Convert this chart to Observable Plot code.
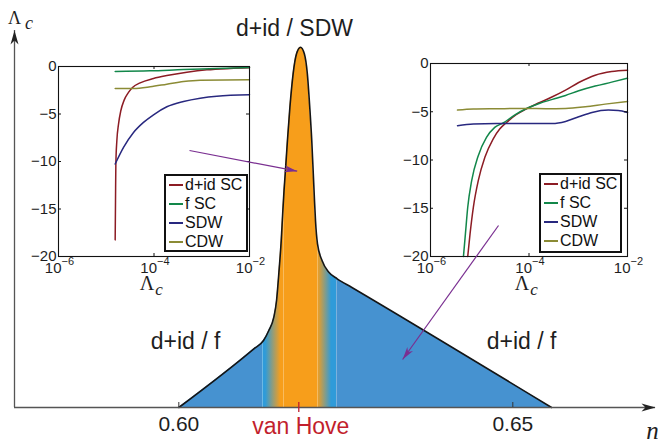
<!DOCTYPE html>
<html>
<head>
<meta charset="utf-8">
<script src="https://cdn.jsdelivr.net/npm/d3@7"></script>
<script src="https://cdn.jsdelivr.net/npm/@observablehq/plot@0.6"></script>
<style>
  html, body { margin: 0; padding: 0; background: #fff; }
  #wrap { position: relative; width: 658px; height: 442px; overflow: hidden; font-family: "Liberation Sans", Arial, sans-serif; }
  #wrap svg { position: absolute; left: 0; top: 0; }
  .legend { position: absolute; box-sizing: border-box; border: 2px solid #111; background: #fff; font-size: 16px; color: #111; padding-left: 3px; }
  .legend .row { height: 18.8px; display: flex; align-items: center; white-space: nowrap; line-height: 1; }
  .legend .sw { display: inline-block; width: 14px; height: 2px; margin-right: 2px; }
</style>
</head>
<body>
<div id="wrap"></div>
<script>
// ---------------- main phase diagram: critical scale Λc versus filling n ----------------
const boundaryN = [0.60000, 0.61123, 0.61268, 0.61347, 0.61422, 0.61463, 0.61497, 0.61533, 0.61555, 0.61575,
                   0.61593, 0.61626, 0.61663, 0.61711, 0.61762, 0.61822, 0.61879, 0.61924, 0.61960, 0.61990,
                   0.62013, 0.62031, 0.62046, 0.62076, 0.62144, 0.62246, 0.62371, 0.62585, 0.65580];
const boundaryL = [0, 0.1557, 0.1777, 0.2042, 0.2395, 0.2838, 0.3554, 0.4430, 0.5146, 0.5756,
                   0.6207, 0.7082, 0.7966, 0.8851, 0.9382, 0.9557, 0.9382, 0.8851, 0.7966, 0.7082,
                   0.6199, 0.5491, 0.4960, 0.4342, 0.3899, 0.3589, 0.3414, 0.3191, 0];
const bandEdgesN = [0.61253, 0.61567, 0.62076, 0.62361];
const xTickValues = [0.60, 0.65];
const vanHoveN = 0.61796;
const phaseText = ["d+id / SDW", "d+id / f", "d+id / f"];
const phaseTextN = [0.61732, 0.60100, 0.65130];
const phaseTextL = [1.005, 0.175, 0.175];
const arrowFromN = [0.60160, 0.64786];
const arrowFromL = [0.6817, 0.4828];
const arrowToN = [0.61772, 0.63350];
const arrowToL = [0.6268, 0.1273];
const nLabelN = 0.6709;

// ---------------- insets: flow of the susceptibilities ----------------
const seriesNames = ["d+id SC", "f SC", "SDW", "CDW"];
const seriesColors = ["#8c1c24", "#12874a", "#28287f", "#8b8b35"];
const insetYTicks = [0, -5, -10, -15, -20];
const insetXTicks = [1e-6, 1e-4, 1e-2];

// left inset
const leftDidLam = [1.538e-5, 1.563e-5, 1.589e-5, 1.667e-5, 1.807e-5, 2.018e-5, 2.371e-5, 2.924e-5, 3.548e-5, 5.129e-5, 9.772e-5, 1.858e-4, 4.875e-4, 1.276e-3, 3.936e-3, 1e-2];
const leftDidVal = [-18.25, -14.12, -10.26, -7.81, -6.06, -4.66, -3.54, -2.73, -2.21, -1.72, -1.26, -0.95, -0.60, -0.35, -0.21, -0.14];
const leftFLam = [1.538e-5, 8.318e-5, 4.150e-4, 2.070e-3, 1e-2];
const leftFVal = [-0.53, -0.46, -0.32, -0.21, -0.10];
const leftSdwLam = [1.538e-5, 2.301e-5, 3.724e-5, 6.026e-5, 9.772e-5, 1.858e-4, 4.150e-4, 9.268e-4, 2.070e-3, 1e-2];
const leftSdwVal = [-10.26, -8.51, -6.94, -5.88, -5.08, -4.24, -3.68, -3.33, -3.12, -2.98];
const leftCdwLam = [1.538e-5, 3.724e-5, 8.318e-5, 1.858e-4, 4.150e-4, 9.268e-4, 1e-2];
const leftCdwVal = [-2.31, -2.31, -2.14, -1.86, -1.58, -1.44, -1.40];

// right inset
const rightDidLam = [5.702e-6, 6.353e-6, 7.413e-6, 9.333e-6, 1.271e-5, 1.866e-5, 2.541e-5, 3.451e-5, 5.483e-5, 8.710e-5, 1.611e-4, 2.985e-4, 5.521e-4, 1.023e-3, 2.208e-3, 4.775e-3, 1e-2];
const rightDidVal = [-20, -17.66, -14.90, -12.14, -9.72, -7.83, -6.79, -6.14, -5.31, -4.72, -4.07, -3.45, -2.76, -1.97, -1.21, -0.83, -0.69];
const rightFLam = [4.667e-6, 5.117e-6, 5.702e-6, 6.855e-6, 9.333e-6, 1.371e-5, 2.014e-5, 3.055e-5, 5.082e-5, 8.710e-5, 1.611e-4, 2.985e-4, 5.521e-4, 1.023e-3, 2.208e-3, 4.775e-3, 1e-2];
const rightFVal = [-20, -17.66, -14.90, -12.14, -9.55, -7.66, -6.62, -6.14, -5.34, -4.69, -4.14, -3.72, -3.31, -2.83, -2.34, -1.93, -1.52];
const rightSdwLam = [3.535e-6, 7.413e-6, 2.178e-5, 8.710e-5, 2.985e-4, 5.521e-4, 1.023e-3, 1.900e-3, 4.093e-3, 6.50e-3, 1e-2];
const rightSdwVal = [-6.45, -6.28, -6.21, -6.21, -6.21, -6.00, -5.52, -5.07, -4.83, -4.86, -5.07];
const rightCdwLam = [3.535e-6, 7.413e-6, 2.178e-5, 8.710e-5, 2.193e-4, 5.521e-4, 1.393e-3, 3.508e-3, 1e-2];
const rightCdwVal = [-4.83, -4.72, -4.69, -4.66, -4.69, -4.66, -4.48, -4.21, -3.93];

// ---------------- helpers ----------------
const W = 658, H = 442;
const INK = "#1e1e1e", AXIS = "#555555", PURPLE = "#7a2f91", RED = "#c21f2d";
const BLUE = "#4692d0", CYAN = "#2f9bd9", ORANGE = "#f79e1b";
const SANS = "'Liberation Sans', Arial, sans-serif", SERIF = "'Liberation Serif', 'DejaVu Serif', serif";

function stealth(len, wid) { // arrow head, tip at origin, pointing up
  return { draw(ctx) {
    ctx.moveTo(0, 0); ctx.lineTo(wid / 2, len); ctx.lineTo(0, len * 0.72); ctx.lineTo(-wid / 2, len); ctx.closePath();
  }};
}
function boundaryAt(n) {
  for (let i = 1; i < boundaryN.length; i++) if (n <= boundaryN[i]) {
    const t = (n - boundaryN[i - 1]) / (boundaryN[i] - boundaryN[i - 1]);
    return boundaryL[i - 1] + t * (boundaryL[i] - boundaryL[i - 1]);
  }
  return 0;
}
const zip = (xs, ys) => xs.map((x, i) => ({x, y: ys[i]}));

// ---------------- main plot ----------------
const xDomain = [0.5754, 0.67136];
const mL = 14, mR = 3, mT = 30, mB = 35;
const xs = Plot.scale({x: {domain: xDomain, range: [mL, W - mR]}});
const ys = Plot.scale({y: {domain: [0, 1], range: [H - mB, mT]}});

const boundary = zip(boundaryN, boundaryL);
const bandLines = bandEdgesN.map(n => ({n, top: boundaryAt(n) * 0.985}));
const phases = phaseText.map((t, i) => ({t, n: phaseTextN[i], l: phaseTextL[i]}));
const arrows = arrowFromN.map((_, i) => ({n1: arrowFromN[i], l1: arrowFromL[i], n2: arrowToN[i], l2: arrowToL[i]}));
arrows.forEach(a => {
  const dx = xs.apply(a.n2) - xs.apply(a.n1), dy = ys.apply(a.l2) - ys.apply(a.l1);
  a.rot = Math.atan2(dx, -dy) * 180 / Math.PI;
});
const axisHeads = [{n: xDomain[1], l: 0, rot: 90}, {n: xDomain[0], l: 1, rot: 0}];

const main = Plot.plot({
  width: W, height: H, marginLeft: mL, marginRight: mR, marginTop: mT, marginBottom: mB,
  style: {background: "transparent", fontFamily: SANS, color: INK},
  x: {domain: xDomain, axis: null},
  y: {domain: [0, 1], axis: null},
  marks: [
    Plot.areaY(boundary, {x: "x", y: "y", fill: "url(#bandGrad)", curve: "monotone-x"}),
    Plot.ruleX(bandLines, {x: "n", y1: 0, y2: "top", stroke: "#ffffff", strokeOpacity: 0.3, strokeWidth: 1}),
    Plot.line(boundary, {x: "x", y: "y", stroke: "#151515", strokeWidth: 1.6, curve: "monotone-x"}),
    // axes
    Plot.ruleY([0], {x1: xDomain[0], x2: xDomain[1], stroke: AXIS, strokeWidth: 1.3}),
    Plot.ruleX([xDomain[0]], {y1: 0, y2: 1, stroke: AXIS, strokeWidth: 1.3}),
    Plot.dot(axisHeads, {x: "n", y: "l", rotate: "rot", symbol: stealth(14, 8), r: 5, fill: "#222", stroke: "none"}),
    Plot.ruleX(xTickValues, {x: d => d, y1: 0, y2: 0, insetTop: -5, stroke: "#333", strokeWidth: 1}),
    Plot.text(xTickValues, {x: d => d, y: 0, dy: 17, text: d => d.toFixed(2), fontSize: 21, fill: INK}),
    Plot.ruleX([vanHoveN], {x: d => d, y1: 0, y2: 0, insetTop: -5, insetBottom: -5, stroke: RED, strokeWidth: 1.3}),
    Plot.text([vanHoveN], {x: d => d, y: 0, dx: 2, dy: 19, text: () => "van Hove", fontSize: 23, fill: RED}),
    Plot.text(["Λ"], {x: xDomain[0], y: 1, dx: 0, dy: -12.5, text: d => d, fontFamily: SERIF, fontSize: 18, fill: INK}),
    Plot.text(["c"], {x: xDomain[0], y: 1, dx: 14.5, dy: -7.5, text: d => d, fontFamily: SERIF, fontStyle: "italic", fontSize: 18, fill: INK}),
    Plot.text(["n"], {x: nLabelN, y: 0, dy: 23, text: d => d, fontFamily: SERIF, fontStyle: "italic", fontSize: 25, fill: INK}),
    // phase labels
    Plot.text(phases, {x: "n", y: "l", text: "t", fontSize: 23, fill: INK}),
    // arrows pointing from insets to the phase regions
    Plot.link(arrows, {x1: "n1", y1: "l1", x2: "n2", y2: "l2", stroke: PURPLE, strokeWidth: 1.2}),
    Plot.dot(arrows, {x: "n2", y: "l2", rotate: "rot", symbol: stealth(13, 7), r: 5, fill: PURPLE, stroke: "none"})
  ]
});

// gradient that paints the SDW-dominated window around van Hove filling
{
  const sx = main.scale("x");
  const [e0, e1, e2, e3] = bandEdgesN;
  const stops = [
    [xDomain[0], BLUE], [e0, BLUE], [e0, CYAN], [e0 + 0.15 * (e1 - e0), CYAN], [e0 + 0.88 * (e1 - e0), ORANGE],
    [e2, ORANGE], [e2 + 0.74 * (e3 - e2), CYAN], [e3, CYAN], [e3, BLUE], [xDomain[1], BLUE]
  ];
  const defs = d3.create("svg:defs");
  const g = defs.append("linearGradient").attr("id", "bandGrad").attr("gradientUnits", "userSpaceOnUse")
    .attr("x1", 0).attr("x2", W).attr("y1", 0).attr("y2", 0);
  stops.forEach(([n, c]) => g.append("stop").attr("offset", Math.max(0, Math.min(1, sx.apply(n) / W))).attr("stop-color", c));
  main.insertBefore(defs.node(), main.firstChild);
}

// ---------------- insets ----------------
function makeInset(box, series) {
  const innerW = box.right - box.left, innerH = box.bottom - box.top;
  const inner = insetYTicks.slice(1, -1);
  return Plot.plot({
    width: W, height: H,
    marginLeft: box.left, marginRight: W - box.right, marginTop: box.top, marginBottom: H - box.bottom,
    style: {background: "transparent", fontFamily: SANS, color: INK},
    x: {type: "log", domain: [1e-6, 1e-2], axis: null},
    y: {domain: [-20, 0], axis: null},
    marks: [
      ...series.map((s, i) => Plot.line(zip(s[0], s[1]), {x: "x", y: "y", stroke: seriesColors[i], strokeWidth: 1.5, curve: "monotone-x"})),
      Plot.frame({stroke: "#111", strokeWidth: 1.1}),
      Plot.tickY(inner, {y: d => d, stroke: "#111", insetRight: innerW - 3}),
      Plot.tickY(inner, {y: d => d, stroke: "#111", insetLeft: innerW - 3}),
      Plot.tickX([1e-4], {x: d => d, stroke: "#111", insetTop: innerH - 3}),
      Plot.tickX([1e-4], {x: d => d, stroke: "#111", insetBottom: innerH - 3}),
      Plot.axisY({ticks: insetYTicks, label: null, tickSize: 0, tickPadding: 2, fontSize: 15, tickFormat: d => d < 0 ? "\u2212" + (-d) : String(d)}),
      Plot.text(insetXTicks, {x: d => d, frameAnchor: "bottom", text: () => "10", textAnchor: "end", dx: 3, dy: 16, fontSize: 15, fill: INK}),
      Plot.text(insetXTicks, {x: d => d, frameAnchor: "bottom", text: d => "\u2212" + Math.round(-Math.log10(d)), textAnchor: "start", dx: 3, dy: 8, fontSize: 11, fill: INK}),
      Plot.text(["Λ"], {x: 1e-4, frameAnchor: "bottom", dx: -7, dy: 33, text: d => d, fontFamily: SERIF, fontSize: 20, fill: INK}),
      Plot.text(["c"], {x: 1e-4, frameAnchor: "bottom", dx: 5, dy: 38, text: d => d, fontFamily: SERIF, fontStyle: "italic", fontSize: 17, fill: INK})
    ]
  });
}

const insetLeft = makeInset({left: 58, right: 249, top: 66, bottom: 256},
  [[leftDidLam, leftDidVal], [leftFLam, leftFVal], [leftSdwLam, leftSdwVal], [leftCdwLam, leftCdwVal]]);
const insetRight = makeInset({left: 430, right: 627, top: 63, bottom: 256},
  [[rightDidLam, rightDidVal], [rightFLam, rightFVal], [rightSdwLam, rightSdwVal], [rightCdwLam, rightCdwVal]]);

function makeLegend(left, top, width, height) {
  const div = document.createElement("div");
  div.className = "legend";
  Object.assign(div.style, {left: left + "px", top: top + "px", width: width + "px", height: height + "px"});
  seriesNames.forEach((name, i) => {
    const row = document.createElement("div");
    row.className = "row";
    const sw = document.createElement("span");
    sw.className = "sw";
    sw.style.background = seriesColors[i];
    row.appendChild(sw);
    row.appendChild(document.createTextNode(name));
    div.appendChild(row);
  });
  return div;
}

const wrap = document.getElementById("wrap");
wrap.appendChild(insetLeft);
wrap.appendChild(insetRight);
wrap.appendChild(makeLegend(164, 174, 84, 78));
wrap.appendChild(makeLegend(539, 173, 83, 80));
wrap.appendChild(main);
</script>
</body>
</html>
